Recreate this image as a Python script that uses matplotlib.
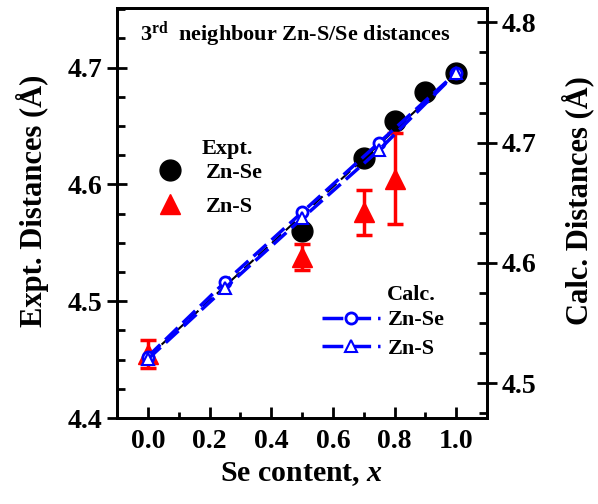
import matplotlib.pyplot as plt
from matplotlib.lines import Line2D
from matplotlib.ticker import MultipleLocator

plt.rcParams['font.family'] = ['Liberation Serif', 'DejaVu Serif']
plt.rcParams['font.weight'] = 'bold'
plt.rcParams['mathtext.fontset'] = 'custom'
plt.rcParams['mathtext.bf'] = 'Liberation Serif:bold'
plt.rcParams['mathtext.rm'] = 'Liberation Serif:bold'
plt.rcParams['mathtext.it'] = 'Liberation Serif:bold:italic'

# experimental 3rd neighbour distances (left axis)
expt_se_x = [0.5, 0.7, 0.8, 0.9, 1.0]
expt_se_y = [4.560, 4.623, 4.654, 4.679, 4.695]
expt_s_x = [0.0, 0.5, 0.7, 0.8]
expt_s_y = [4.455, 4.538, 4.576, 4.605]
expt_s_err = [0.012, 0.011, 0.019, 0.039]
# Vegard line
vegard_x = [0.0, 1.0]
vegard_y = [4.452, 4.695]

# calculated distances (right axis)
calc_x = [0.0, 0.25, 0.5, 0.75, 1.0]
calc_se_y = [4.522, 4.584, 4.642, 4.700, 4.758]
calc_s_y = [4.520, 4.579, 4.637, 4.694, 4.758]

fig = plt.figure(figsize=(5.98, 5.04), dpi=100)
ax = fig.add_axes([117 / 598, 86 / 504, 370 / 598, 410 / 504])
ax2 = ax.twinx()

ax.plot(vegard_x, vegard_y, color='black', ls=(0, (6, 3)), lw=1.5, zorder=2)
ax.plot(expt_se_x, expt_se_y, 'o', color='black', ms=15, zorder=4)
ax.errorbar(expt_s_x, expt_s_y, yerr=expt_s_err, fmt='^', color='red',
            ms=14, elinewidth=2.5, capsize=6, capthick=2.5, zorder=4)

ax2.plot(calc_x, calc_se_y, color='blue', ls=(0, (5, 2)), lw=2.5,
         marker='o', ms=8, mfc='white', mew=2, zorder=3)
ax2.plot(calc_x, calc_s_y, color='blue', ls=(0, (5, 2)), lw=2.5,
         marker='^', ms=8, mfc='white', mew=1.5, zorder=3)

ax.set_xlim(-0.1, 1.1)
ax.set_ylim(4.4, 4.751)
ax2.set_ylim(4.471, 4.812)

ax.xaxis.set_major_locator(MultipleLocator(0.2))
ax.xaxis.set_minor_locator(MultipleLocator(0.1))
ax.yaxis.set_major_locator(MultipleLocator(0.1))
ax.yaxis.set_minor_locator(MultipleLocator(0.025))
ax2.yaxis.set_major_locator(MultipleLocator(0.1))
ax2.yaxis.set_minor_locator(MultipleLocator(0.025))

for a in (ax, ax2):
    for s in a.spines.values():
        s.set_linewidth(2)
ax.tick_params(axis='x', which='major', direction='in', length=8, width=2,
               labelsize=20, pad=8)
ax.tick_params(axis='x', which='minor', direction='in', length=4, width=2)
ax.tick_params(axis='y', which='major', direction='inout', length=14, width=2,
               labelsize=20)
ax.tick_params(axis='y', which='minor', direction='in', length=6, width=2)
ax2.tick_params(axis='y', which='major', direction='inout', length=14, width=2,
                labelsize=20)
ax2.tick_params(axis='y', which='minor', direction='in', length=6, width=2)

ax.set_xlabel('Se content, $x$', fontsize=21.5, fontweight='bold', labelpad=4)
ax.set_ylabel('Expt. Distances (Å)', fontsize=22, fontweight='bold')
ax2.set_ylabel('Calc. Distances (Å)', fontsize=22, fontweight='bold')
ax.yaxis.set_label_coords(-0.185, 0.53)
ax2.yaxis.set_label_coords(1.2, 0.53)

ax.text(0.062, 0.935, '3$^{\\mathbf{rd}}$  neighbour Zn-S/Se distances',
        transform=ax.transAxes, fontsize=16, fontweight='bold', va='center')

# legends
ax.text(0.23, 0.657, 'Expt.', transform=ax.transAxes, fontsize=16,
        fontweight='bold', va='center')
h1 = [Line2D([], [], marker='o', color='black', ls='none', ms=15),
      Line2D([], [], marker='^', color='red', ls='none', ms=14)]
ax.legend(h1, ['Zn-Se', 'Zn-S'], loc='center left', frameon=False,
          bbox_to_anchor=(0.03, 0.557), fontsize=16, handletextpad=0.6,
          labelspacing=0.6)

ax2.text(0.73, 0.30, 'Calc.', transform=ax.transAxes, fontsize=16,
         fontweight='bold', va='center')
h2 = [Line2D([], [], color='blue', ls=(0, (6, 2)), lw=2.5, marker='o', ms=8,
             mfc='white', mew=2),
      Line2D([], [], color='blue', ls=(0, (6, 2)), lw=2.5, marker='^', ms=8,
             mfc='white', mew=1.5)]
ax2.legend(h2, ['Zn-Se', 'Zn-S'], loc='center left', frameon=False,
           bbox_to_anchor=(0.50, 0.204), fontsize=16, handlelength=2.6,
           handletextpad=0.35, labelspacing=0.35)

fig.savefig('out.png', dpi=100)
